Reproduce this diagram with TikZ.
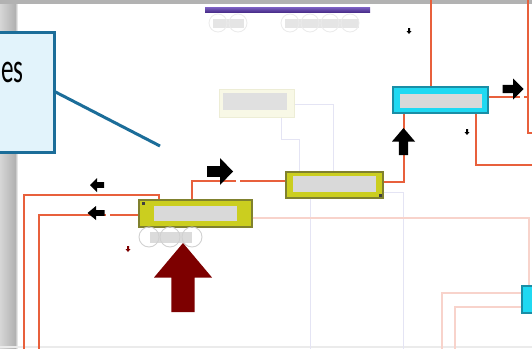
\documentclass[tikz,border=0pt]{standalone}
\usepackage{fontspec}
\setmainfont{Carlito}
\usepackage{xcolor}
\usepackage{tikz}
\usetikzlibrary{positioning,calc}
\definecolor{PipeRed}{HTML}{E8603C}
\definecolor{PipeTint}{HTML}{F8D3CB}
\definecolor{Lavender}{HTML}{E4E4F4}
\definecolor{UnitFill}{HTML}{CBCE1F}
\definecolor{UnitEdge}{HTML}{80812E}
\definecolor{HxFill}{HTML}{1FD9F2}
\definecolor{HxEdge}{HTML}{1A8EA6}
\definecolor{CoreGray}{HTML}{D9D9D9}
\definecolor{GhostFill}{HTML}{F8F8E6}
\definecolor{GhostEdge}{HTML}{EDEDD6}
\definecolor{Ember}{HTML}{7D0000}
\definecolor{BarDark}{HTML}{4B2F8C}
\definecolor{BarLight}{HTML}{7E62C4}
\definecolor{NoteEdge}{HTML}{1B6D99}
\definecolor{NoteFill}{HTML}{E2F3FB}
\definecolor{FrameA}{HTML}{D6D6D6}
\definecolor{FrameB}{HTML}{B2B2B2}
\newcommand{\blockarrow}[5]{% colour, centre, angle, length, width
  \fill[#1,shift={#2},rotate=#3] ({-#4/2},{-0.2*#5}) -- (0,{-0.2*#5}) -- (0,{-#5/2})
    -- ({#4/2},0) -- (0,{#5/2}) -- (0,{0.2*#5}) -- ({-#4/2},{0.2*#5}) -- cycle;}

\begin{document}
\begin{tikzpicture}[x=1pt,y=-1pt,
  unit/.style={rectangle,draw=UnitEdge,fill=UnitFill,line width=1.3pt,inner sep=0pt},
  hx/.style={rectangle,draw=HxEdge,fill=HxFill,line width=1.3pt,inner sep=0pt},
  core/.style={rectangle,fill=CoreGray,inner sep=0pt},
  ghost/.style={rectangle,draw=GhostEdge,fill=GhostFill,line width=1pt,inner sep=0pt},
  pipe/.style={PipeRed,line width=2pt},
  tint/.style={PipeTint,line width=1.2pt},
  faint/.style={Lavender,line width=1pt},
  ring/.style={draw=black!18,line width=0.9pt},
  note/.style={rectangle,draw=NoteEdge,fill=NoteFill,line width=3pt,inner sep=0pt},
  callout/.style={NoteEdge,line width=3pt}
]
\useasboundingbox (0,0) rectangle (532,348);
\clip (0,0) rectangle (532,348);
% slide frame
\fill[white] (0,0) rectangle (532,348);
\shade[left color=FrameA,right color=FrameB] (0,0) rectangle (15,348);
\shade[left color=FrameB,right color=white] (15,0) rectangle (18,348);
\fill[FrameB] (0,0) rectangle (532,4);
\fill[black!8] (0,346) rectangle (532,348);

% top bar and feeders
\shade[top color=BarLight,bottom color=BarDark] (205,7) rectangle (370,12);
\fill[black!10] (213,19) rectangle (244,28);
\fill[black!10] (285,19) rectangle (359,28);
\foreach \cx in {218,238,290,310,330,350}
  \draw[draw=black!8,line width=0.8pt] (\cx,23) circle (9pt);

% units
\node[ghost,minimum width=75pt,minimum height=28pt] (P) at (256.5,103) {};
\node[core,fill=black!12,minimum width=64pt,minimum height=17pt] (Pc) at (255,101.5) {};
\node[unit,minimum width=113pt,minimum height=27pt] (Y1) at (195.5,213.5) {};
\node[core,minimum width=83pt,minimum height=15pt] (Y1c) at (195.5,213.5) {};
\node[unit,minimum width=97pt,minimum height=26pt] (Y2) at (334.5,185) {};
\node[core,minimum width=83pt,minimum height=16pt] (Y2c) at (334.5,184) {};
\node[hx,minimum width=95pt,minimum height=26pt] (C1) at (440.5,100) {};
\node[core,minimum width=82pt,minimum height=14pt] (C1c) at (441,101) {};
\node[hx,minimum width=24pt,minimum height=27pt] (C2) at (534,299.5) {};
\fill[black!75] (141.5,201.5) rectangle (144.5,204.5);
\fill[black!75] (378.5,193.5) rectangle (381.5,196.5);

% light lines
\coordinate (h1) at (310,350);
\coordinate (h2) at (403,350);
\draw[faint] ([yshift=-1pt]P.east) -| ([xshift=-1.5pt]Y2.north);
\draw[faint] ([xshift=24.5pt]P.south) -- ++(0,22) -| ([xshift=-35.5pt]Y2.north);
\draw[faint] ([xshift=-24.5pt]Y2.south) -- (h1);
\draw[faint] ([yshift=-7pt]Y2.east) -| (h2);
\coordinate (k1) at (442,350);
\coordinate (k2) at (455,350);
\draw[tint] ([yshift=-4.5pt]Y1.east) -| ([xshift=-5pt]C2.north);
\draw[tint] ([yshift=6.5pt]C2.west) -| (k1);
\draw[tint] ([yshift=-7.5pt]C2.west) -| (k2);

% pipes
\coordinate (a1) at (24,350);
\coordinate (b1) at (39,350);
\coordinate (e1) at (431,0);
\coordinate (f1) at (535,165);
\coordinate (g0) at (528,0);
\coordinate (g1) at (528,133);
\coordinate (g2) at (535,133);
\draw[pipe] ([xshift=-36.5pt]Y1.north) -- ++(0,-4) -| (a1);
\draw[pipe] ([yshift=-1.5pt]Y1.west) -| (b1);
\draw[pipe] ([xshift=-3.5pt]Y1.north) |- ([yshift=4pt]Y2.west);
\draw[pipe] ([yshift=3pt]Y2.east) -| ([xshift=-36.5pt]C1.south);
\draw[pipe] ([xshift=-9.5pt]C1.north) -- (e1);
\draw[pipe] ([xshift=35.5pt]C1.south) |- (f1);
\draw[pipe] (g0) -- (g1) -- (g2);
\draw[pipe] ([yshift=3pt]C1.east) -- ++(40,0);
\draw[white,line width=3pt] (106,215) -- (110,215);
\draw[white,line width=3pt] (236,181) -- (240,181);
\draw[white,line width=3pt] (520,97) -- (524,97);

% feed under the first unit
\fill[black!14] (150,232) rectangle (192,243);
\foreach \cx in {149,170,192}
  \draw[ring] (\cx,237) circle (10pt);

% flow arrows
\blockarrow{Ember}{(183,277.5)}{90}{69}{58}
\blockarrow{black}{(220,171.5)}{0}{26}{27}
\blockarrow{black}{(403.5,141.5)}{90}{27}{23}
\blockarrow{black}{(513,89)}{0}{21}{21}
\blockarrow{black}{(97,185)}{180}{14}{14}
\blockarrow{black}{(96,213)}{180}{17}{14}
\blockarrow{black}{(409,31)}{-90}{6}{5}
\blockarrow{black}{(467,132)}{-90}{6}{5}
\blockarrow{Ember}{(128,249)}{-90}{6}{5}

% callout
\node[note,minimum width=62pt,minimum height=120pt] (note) at (23,92) {};
\node[anchor=base west,font=\fontsize{42}{42}\selectfont,xscale=0.6,transform shape,inner sep=0pt] (notetext) at (1,82) {es};
\coordinate (tip) at (160,146);
\draw[callout] (note.east) -- (tip);
\end{tikzpicture}
\end{document}
